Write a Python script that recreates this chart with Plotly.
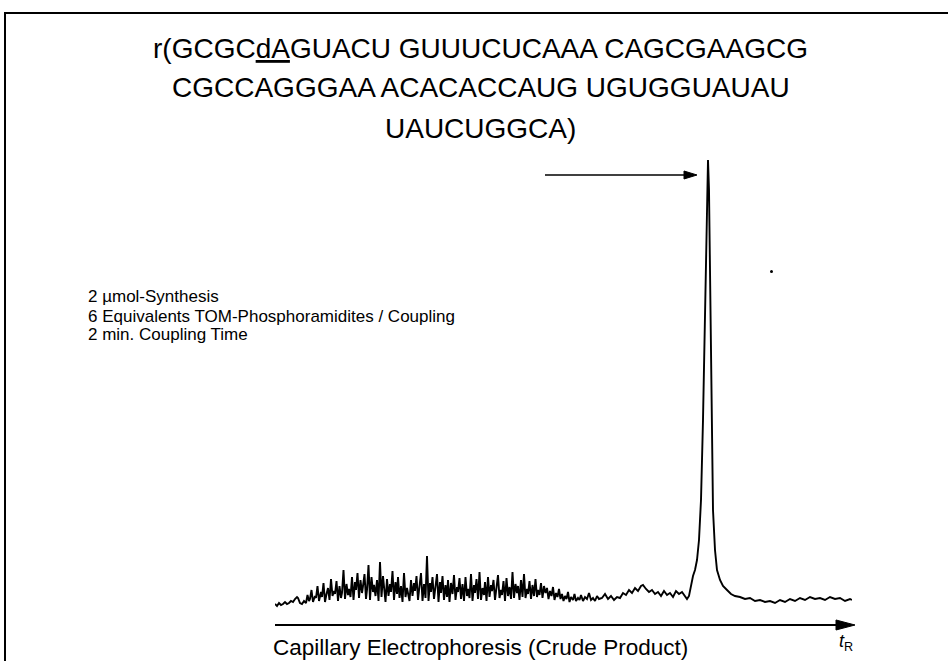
import plotly.graph_objects as go

# ---------------- data (arbitrary units) ----------------
# migration time (a.u.) and detector signal (a.u.)
time_au = [0, 2, 4, 6, 8, 10, 12, 14, 16, 18, 20, 22, 23, 25, 27, 29,
           31, 32.5, 34, 35, 36.5, 38, 40, 41, 42.5, 44, 46, 47, 48.5, 50, 51.5, 53, 54.5,
           56, 57.5, 59, 60, 61.5, 63, 64.5, 66, 67, 68.5, 70, 71.5, 73, 74, 75.5, 77, 78.5,
           80, 81, 82.5, 84, 85.5, 87, 88, 89.5, 91, 92, 93.5, 95, 96.5, 98, 99, 100.5,
           102, 103.5, 105, 106.5, 108, 109, 110.5, 112, 113.5, 115, 116, 117.5, 119, 120.5,
           122, 123, 124.5, 126, 127.5, 129, 130.5, 132, 133, 134.5, 136, 137.5, 139, 140,
           141.5, 143, 144.5, 146, 147.5, 149, 150.5, 152, 153.5, 155, 156, 157.5, 159, 160.5,
           162, 163.5, 165, 166, 167.5, 169, 170.5, 172, 173, 174.5, 176, 177.5, 179, 180.5,
           182, 183, 184.5, 186, 187.5, 189, 190.5, 192, 193, 194.5, 196, 197.5, 199, 200,
           201.5, 203, 204.5, 206, 207.5, 209, 210, 211.5, 213, 214.5, 216, 217, 218.5, 220,
           221.5, 223, 224.5, 226, 227, 228.5, 230, 231.5, 233, 234.5, 236, 237.5, 239, 240.5,
           242, 243, 244.5, 246, 247.5, 249, 250.5, 252, 253, 254.5, 256, 257.5, 259, 260.5,
           262, 263, 264.5, 266, 267.5, 269, 270.5, 272, 273.5, 275, 276.5, 278, 279.5, 281,
           282.5, 284, 285.5, 287, 288.5, 290, 291.5, 293, 294.5, 296, 298, 299.5, 301, 303,
           304.5, 306, 308, 310, 312, 314, 316, 318, 320, 322, 324,
           327, 330, 333, 336, 339, 342, 345, 348, 351, 354, 357, 360, 363, 366,
           368, 371, 374, 377, 380, 383, 386, 389, 392, 395, 398, 401, 404, 407, 410, 412,
           414, 416, 418, 420, 422, 424, 426, 428, 430, 432, 433, 434, 435, 436, 437, 438,
           440, 442, 445, 448, 452, 456, 460, 465, 470, 475, 480, 485, 490, 495, 500, 505,
           510, 515, 520, 525, 530, 535, 540, 545, 550, 555, 560, 565, 570, 575, 577]
signal_au = [6, 4, 7, 5, 6, 8, 6, 7, 9, 8, 11, 13, 12, 7, 6, 9,
             7, 15, 9, 11, 20, 8, 14, 12, 24, 9, 18, 13, 27, 8, 16, 22, 10,
             31, 14, 19, 16, 29, 9, 24, 12, 17, 40, 11, 26, 15, 21, 13, 33, 10,
             28, 20, 37, 12, 30, 17, 24, 36, 11, 20, 45, 10, 33, 18, 25, 14,
             30, 9, 48, 13, 34, 22, 8, 31, 14, 26, 18, 39, 10, 28,
             16, 33, 12, 24, 8, 37, 13, 22, 17, 9, 30, 14, 27, 19,
             34, 10, 24, 37, 9, 26, 12, 54, 9, 27, 18, 33, 11, 22,
             36, 8, 28, 17, 34, 10, 25, 13, 30, 8, 27, 16, 35, 10,
             23, 18, 32, 11, 26, 9, 33, 14, 21, 12, 36, 9, 25, 17,
             31, 11, 38, 10, 22, 15, 28, 9, 33, 13, 25, 19, 30, 10,
             24, 35, 12, 20, 15, 29, 9, 32, 14, 23, 11, 38, 12, 26,
             17, 24, 10, 30, 13, 36, 12, 21, 16, 29, 11, 25, 14, 31,
             13, 20, 15, 27, 12, 24, 17, 22, 11, 19, 14, 23, 10, 17,
             13, 21, 11, 16, 9, 14, 11, 18, 8, 13, 10, 16, 9, 12,
             10, 15, 9, 13, 11, 17, 10, 12, 9, 14, 11,
             12, 16, 11, 14, 10, 13, 12, 17, 15, 20, 17, 22, 19, 24,
             25, 21, 18, 20, 16, 18, 14, 19, 15, 17, 13, 19, 16, 18, 13, 11,
             14, 24, 34, 40, 50, 70, 110, 190, 300, 410, 450, 420, 330, 230, 150, 100,
             60, 40, 30, 24, 20, 16, 14, 13, 11, 12, 9, 10, 8, 9, 7, 10,
             8, 11, 9, 12, 10, 13, 11, 12, 10, 13, 11, 12, 9, 11, 10]

title_lines = ["r(GCGC<u>dA</u>GUACU GUUUCUCAAA CAGCGAAGCG",
               "CGCCAGGGAA ACACACCAUG UGUGGUAUAU",
               "UAUCUGGCA)"]
info_lines = ["2 \u00b5mol-Synthesis",
              "6 Equivalents TOM-Phosphoramidites / Coupling",
              "2 min. Coupling Time"]
caption_text = "Capillary Electrophoresis (Crude Product)"
axis_label = "<i>t</i><sub>R</sub>"

# ---------------- layout helpers ----------------
W, H = 948, 661
def px(x):
    return x / W
def py(y):
    return 1 - y / H

X0, X1 = 275, 852      # pixel span of time axis
Y0, YTOP = 610, 160    # pixel of signal 0 and signal 450

fig = go.Figure()
fig.add_trace(go.Scatter(x=time_au, y=signal_au, mode="lines",
                         line=dict(color="black", width=1.9),
                         hoverinfo="skip", showlegend=False))

FONT = "Liberation Sans, Arial, Helvetica, sans-serif"
ann = []
title_y = [48, 88, 128]
for t, yy in zip(title_lines, title_y):
    ann.append(dict(text=t, x=px(481), y=py(yy), xref="paper", yref="paper",
                    xanchor="center", yanchor="middle", showarrow=False,
                    font=dict(family=FONT, size=28, color="black")))
info_y = [297, 316, 335]
for t, yy in zip(info_lines, info_y):
    ann.append(dict(text=t, x=px(86), y=py(yy), xref="paper", yref="paper",
                    xanchor="left", yanchor="middle", showarrow=False,
                    font=dict(family=FONT, size=17, color="black")))
ann.append(dict(text=caption_text, x=px(271), y=py(647), xref="paper", yref="paper",
                xanchor="left", yanchor="middle", showarrow=False,
                font=dict(family=FONT, size=22.5, color="black")))
ann.append(dict(text=axis_label, x=px(846), y=py(642), xref="paper", yref="paper",
                xanchor="center", yanchor="middle", showarrow=False,
                font=dict(family=FONT, size=18, color="black")))


def tri(xa, ya, xb, yb, xc, yc):
    return ("M {:.5f},{:.5f} L {:.5f},{:.5f} L {:.5f},{:.5f} Z"
            .format(px(xa), py(ya), px(xb), py(yb), px(xc), py(yc)))

shapes = [
    # frame
    dict(type="rect", xref="paper", yref="paper",
         x0=px(5), x1=px(960), y0=py(680), y1=py(13),
         line=dict(color="black", width=2), fillcolor="rgba(0,0,0,0)"),
    # arrow pointing at the main peak
    dict(type="line", xref="paper", yref="paper",
         x0=px(545), x1=px(688), y0=py(175), y1=py(175),
         line=dict(color="black", width=1.6)),
    dict(type="path", xref="paper", yref="paper",
         path=tri(684, 171, 697, 175, 684, 179),
         fillcolor="black", line=dict(color="black", width=1)),
    # time axis arrow
    dict(type="line", xref="paper", yref="paper",
         x0=px(X0), x1=px(842), y0=py(625), y1=py(625),
         line=dict(color="black", width=2)),
    dict(type="path", xref="paper", yref="paper",
         path=tri(836, 620, 855, 625, 836, 630),
         fillcolor="black", line=dict(color="black", width=1)),
    # small speck in the scan
    dict(type="circle", xref="paper", yref="paper",
         x0=px(770), x1=px(773), y0=py(270), y1=py(273),
         fillcolor="black", line=dict(color="black", width=0)),
]

fig.update_layout(
    width=W, height=H, autosize=False,
    margin=dict(l=0, r=0, t=0, b=0),
    paper_bgcolor="white", plot_bgcolor="white",
    xaxis=dict(domain=[px(X0), px(X1)], range=[0, 577], visible=False, fixedrange=True),
    yaxis=dict(domain=[py(Y0), py(YTOP)], range=[0, 450], visible=False, fixedrange=True),
    annotations=ann, shapes=shapes, showlegend=False,
)
fig.write_html("out.html", config={"displayModeBar": False},
               post_script="document.body.style.margin='0px';document.body.style.overflow='hidden';")
